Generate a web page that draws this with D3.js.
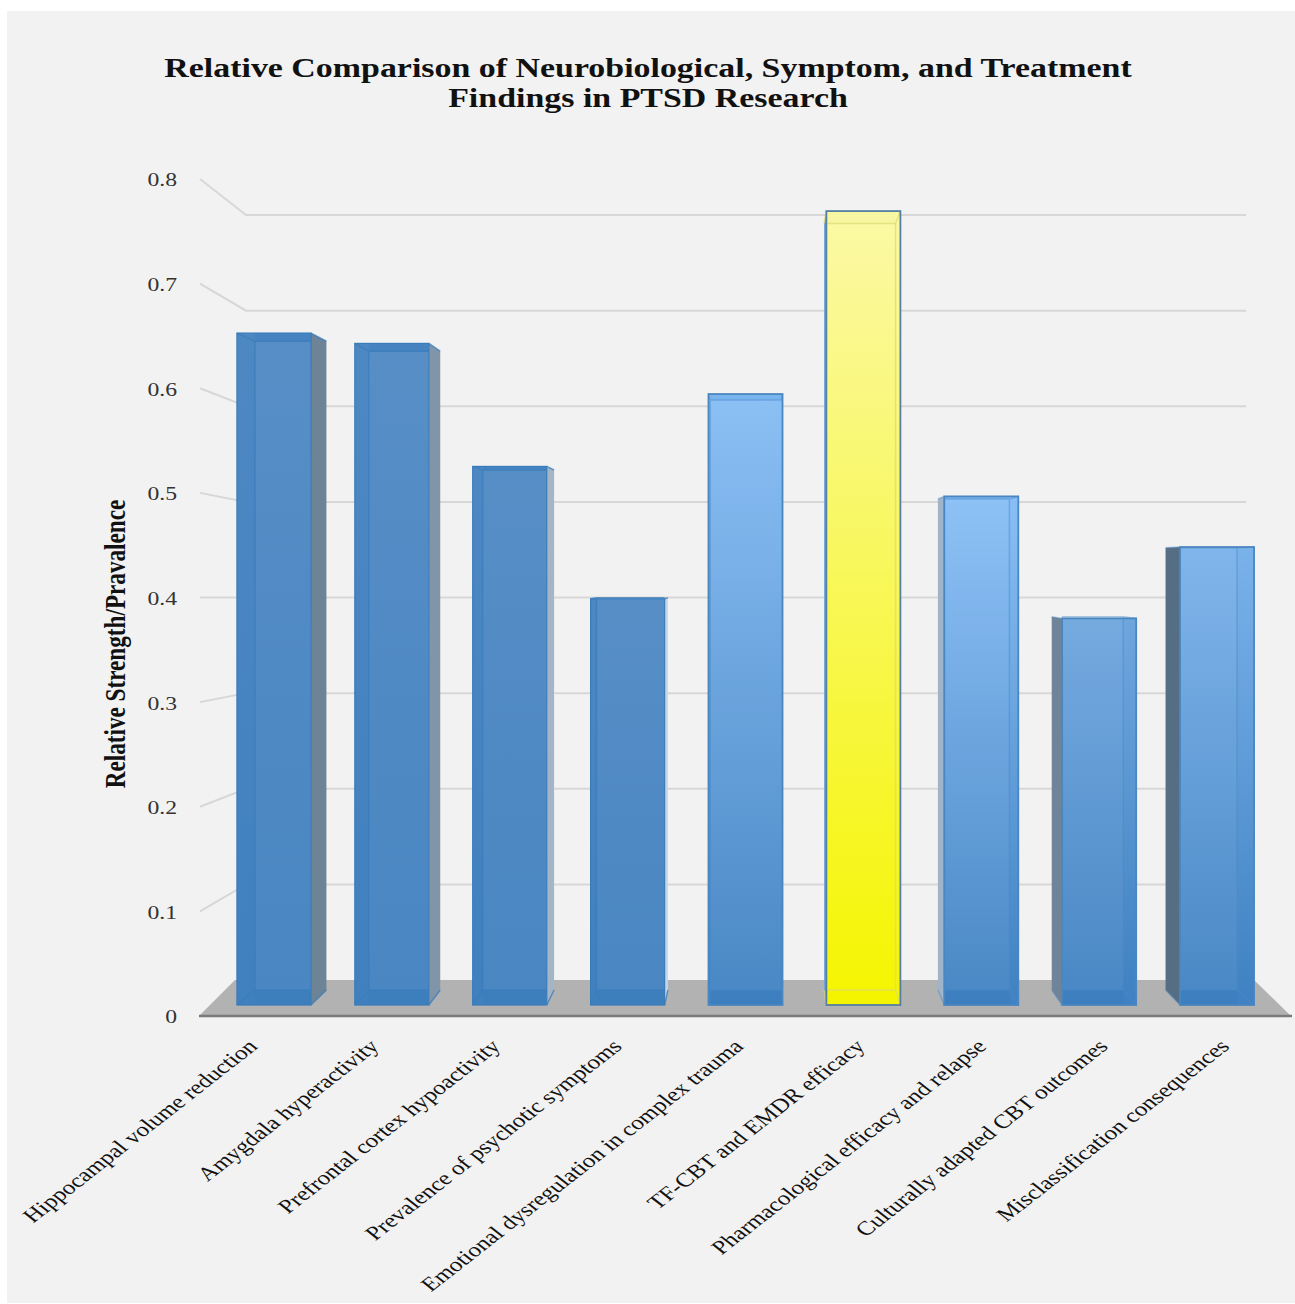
<!DOCTYPE html>
<html>
<head>
<meta charset="utf-8">
<title>PTSD research findings</title>
<script src="https://cdn.jsdelivr.net/npm/d3@7/dist/d3.min.js"></script>
<style>
  html, body { margin: 0; padding: 0; background: #fff; }
  svg { display: block; }
  text { font-family: "Liberation Serif", serif; fill: #111; }
</style>
</head>
<body>
<div id="chart"></div>
<script>
// Chart content
const titleLines = [
  "Relative Comparison of Neurobiological, Symptom, and Treatment",
  "Findings in PTSD Research"
];
const yAxisTitle = "Relative Strength/Pravalence";
const categories = [
  "Hippocampal volume reduction",
  "Amygdala hyperactivity",
  "Prefrontal cortex hypoactivity",
  "Prevalence of psychotic symptoms",
  "Emotional dysregulation in complex trauma",
  "TF-CBT and EMDR efficacy",
  "Pharmacological efficacy and relapse",
  "Culturally adapted CBT outcomes",
  "Misclassification consequences"
];
const values = [0.65, 0.64, 0.521, 0.393, 0.591, 0.768, 0.492, 0.374, 0.443];
const tones = ["dark", "dark", "dark", "dark", "light", "highlight", "light", "light", "light"];
const tickValues = [0, 0.1, 0.2, 0.3, 0.4, 0.5, 0.6, 0.7, 0.8];

// Colours
const palette = {
  dark:      { bottom: "#4080bf", edge: "#3a7cba", cap: "#3f7fbd", inner: "#3a7cbc", innerOpacity: 0.75, capOpacity: 0.55 },
  light:     { bottom: "#3f81c2", edge: "#4a86c0", cap: "#5b9ad8", inner: "#4a8aca", innerOpacity: 0.45, capOpacity: 0.25 },
  highlight: { bottom: "#f5f500", edge: "#55809f", cap: "#f6f4a0", inner: "#dcd870", innerOpacity: 0.7,  capOpacity: 0.55 }
};
const topColors = ["#4e88c3", "#4e88c3", "#4e88c3", "#4e88c3", "#85bdf4", "#fbf9a6", "#88bff6", "#6ea6de", "#7ab2ea"];
const sideColors = ["#6d8396", "#8095a8", "#a3b5c6", "#c3d7ea", "#b9d4ee", "#6fa4dc", "#9fb4c8", "#6f8498", "#566e84"];

// The artwork is wider than it is tall, so text is widened by this factor
const stretch = 1.28;

const width = 1295, height = 1304;
const svg = d3.select("#chart").append("svg").attr("width", width).attr("height", height);
const defs = svg.append("defs");

svg.append("rect").attr("x", 7).attr("y", 11).attr("width", width - 7).attr("height", height - 12).attr("fill", "#f2f2f2");

// Front plane of the bars, and the back plane they recede to
const x = d3.scaleBand().domain(categories).range([215, 1276]).paddingInner(0.372).paddingOuter(0.186);
const xBack = d3.scaleLinear().domain([237, 1253]).range([255, 1236]);
const y = d3.scaleLinear().domain([0, 0.8]).range([1005, 178]);
const yBackBar = d3.scaleLinear().domain([0, 0.8]).range([990, 191.5]);

// Axis planes: wall gridlines and the tick positions at the left edge
const yWall = d3.scaleLinear().domain([0, 0.8]).range([980, 215]);
const yTick = d3.scaleLinear().domain([0, 0.8]).range([1016, 179]);
const wallLeft = 246, wallRight = 1246, tickLeft = 200;

// Wall gridlines with their oblique lead-ins
const grid = svg.append("g").attr("fill", "none").attr("stroke", "#d7d7d7").attr("stroke-width", 2);
grid.selectAll("path").data(tickValues.filter(d => d > 0)).join("path")
  .attr("d", d => d3.line()([[tickLeft, yTick(d)], [wallLeft, yWall(d)], [wallRight, yWall(d)]]));

// Floor
const floorFront = yTick(0), floorBack = yWall(0);
svg.append("polygon")
  .attr("points", [[199, floorFront], [1291, floorFront], [1254, floorBack], [235, floorBack]].join(" "))
  .attr("fill", "#b2b2b2");
svg.append("line")
  .attr("x1", 199).attr("x2", 1292).attr("y1", floorFront).attr("y2", floorFront)
  .attr("stroke", "#7a7a7a").attr("stroke-width", 2.5);

// Bar gradients
categories.forEach((c, i) => {
  const g = defs.append("linearGradient").attr("id", "bar" + i)
    .attr("gradientUnits", "userSpaceOnUse")
    .attr("x1", 0).attr("x2", 0).attr("y1", y(values[i])).attr("y2", y(0));
  g.append("stop").attr("offset", 0).attr("stop-color", topColors[i]);
  g.append("stop").attr("offset", 1).attr("stop-color", palette[tones[i]].bottom);
});

// Bars
const bars = svg.append("g").selectAll("g").data(categories).join("g");

bars.each(function (c, i) {
  const g = d3.select(this), v = values[i], p = palette[tones[i]];
  const isHighlight = tones[i] === "highlight";
  const fx0 = x(c), fx1 = fx0 + x.bandwidth();
  const bx0 = xBack(fx0), bx1 = xBack(fx1);
  const ft = y(v), fb = y(0), bt = yBackBar(v), bb = yBackBar(0);
  const ix0 = Math.max(fx0, bx0), ix1 = Math.min(fx1, bx1);

  // Side face, on whichever side the receding box shows
  if (bx1 > fx1 + 0.5) {
    g.append("polygon").attr("points", [[fx1, ft], [bx1, bt], [bx1, bb], [fx1, fb]].join(" ")).attr("fill", sideColors[i]);
  }
  if (bx0 < fx0 - 0.5) {
    g.append("polygon").attr("points", [[fx0, ft], [bx0, bt], [bx0, bb], [fx0, fb]].join(" ")).attr("fill", sideColors[i]);
  }

  // Front face
  g.append("rect").attr("x", fx0).attr("y", ft).attr("width", fx1 - fx0).attr("height", fb - ft)
    .attr("fill", `url(#bar${i})`);

  // Rear panel seen through the front, a touch lighter than the surrounding strips
  if (!isHighlight) {
    g.append("rect").attr("x", ix0).attr("y", bt).attr("width", ix1 - ix0).attr("height", bb - bt)
      .attr("fill", "#fff").attr("fill-opacity", 0.05);
  }

  // Top and bottom faces seen through the front
  g.append("rect").attr("x", ix0).attr("y", ft).attr("width", ix1 - ix0).attr("height", bt - ft)
    .attr("fill", p.cap).attr("fill-opacity", p.capOpacity);
  g.append("rect").attr("x", ix0).attr("y", bb).attr("width", ix1 - ix0).attr("height", fb - bb)
    .attr("fill", isHighlight ? "#f2f000" : "#3a7ab9").attr("fill-opacity", 0.4);

  // Edges of the rear rectangle and the corner joins
  const edgeParts = [
    [[ix0, bt], [ix1, bt]],
    [[ix0, bb], [ix1, bb]],
    [[fx0, ft], [bx0, bt]],
    [[fx1, ft], [bx1, bt]],
    [[fx0, fb], [bx0, bb]],
    [[fx1, fb], [bx1, bb]]
  ];
  if (bx0 > fx0 + 1) edgeParts.push([[bx0, bt], [bx0, bb]]);
  if (bx1 < fx1 - 1) edgeParts.push([[bx1, bt], [bx1, bb]]);
  g.append("path")
    .attr("d", edgeParts.map(part => d3.line()(part)).join(""))
    .attr("fill", "none").attr("stroke", p.inner).attr("stroke-width", 1.5).attr("stroke-opacity", p.innerOpacity);

  // Front outline
  g.append("rect").attr("x", fx0).attr("y", ft).attr("width", fx1 - fx0).attr("height", fb - ft)
    .attr("fill", "none").attr("stroke", p.edge).attr("stroke-width", tones[i] === "dark" ? 1.2 : 1.8);
});

// Value axis labels
const axis = d3.axisLeft(yTick).tickValues(tickValues).tickSize(0).tickPadding(0)
  .tickFormat(d => d === 0 ? "0" : d3.format(".1f")(d));
const axisG = svg.append("g").attr("transform", "translate(177,1)").call(axis);
axisG.select(".domain").remove();
axisG.selectAll("text")
  .attr("font-size", 18.5).attr("x", 0).attr("dy", "0.32em")
  .attr("text-anchor", "end")
  .attr("transform", `scale(${stretch},1)`)
  .style("fill", "#333");

// Category labels, rotated then widened
const labelX = d3.scalePoint().domain(categories).range([253, 1225]);
svg.append("g").selectAll("text").data(categories).join("text")
  .attr("transform", d => `translate(${labelX(d)},1043) scale(${stretch},1) rotate(-45)`)
  .attr("text-anchor", "end")
  .attr("dy", "0.32em")
  .attr("font-size", 19.7)
  .text(d => d);

// Value axis title
svg.append("text")
  .attr("transform", `translate(115,644) scale(${stretch},1) rotate(-90)`)
  .attr("text-anchor", "middle").attr("dy", "0.32em")
  .attr("font-size", 23.2).attr("font-weight", "bold")
  .text(yAxisTitle);

// Chart title
svg.append("g").selectAll("text").data(titleLines).join("text")
  .attr("transform", (d, i) => `translate(648,${77 + i * 30}) scale(${stretch},1)`)
  .attr("text-anchor", "middle")
  .attr("font-size", 26.5).attr("font-weight", "bold")
  .text(d => d);
</script>
</body>
</html>
